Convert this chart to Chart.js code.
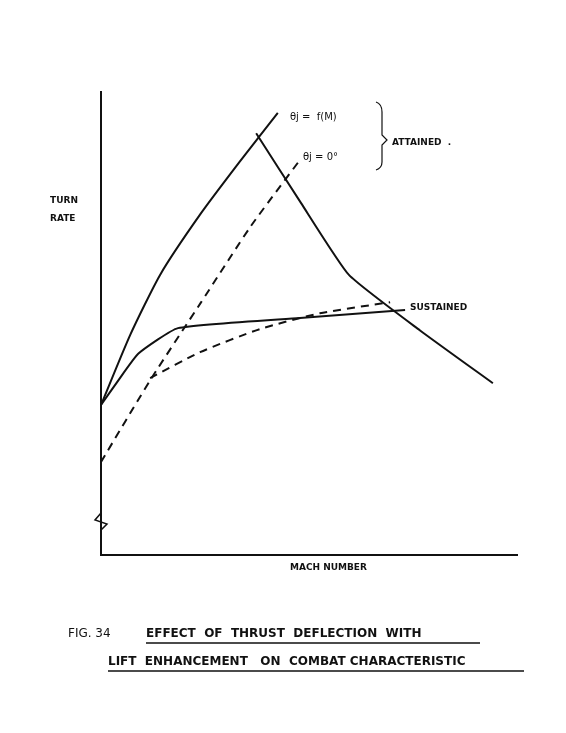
<!DOCTYPE html>
<html>
<head>
<meta charset="utf-8">
<script src="https://cdn.jsdelivr.net/npm/chart.js@4"></script>
<style>
  body { margin: 0; background: #fff; }
  #wrap { width: 566px; height: 733px; }
</style>
</head>
<body>
<div id="wrap"><canvas id="myChart"></canvas></div>
<script>
  // curves (x = Mach, y = turn rate, both relative 0..100)
  const attainedDeflected = [[0, 32.4], [7, 47.5], [14.2, 60.5], [23.8, 73.5], [33.4, 85.0], [42.5, 95.5]];
  const attainedZero = [[0, 20.1], [12, 38.0], [24, 54.5], [36, 71.0], [47.8, 85.3]];
  const attainedLimit = [[37.3, 91.1], [48.1, 76.0], [59.6, 60.5], [76.7, 48.5], [94.2, 37.1]];
  const sustainedDeflected = [[0, 32.4], [4, 37.5], [9, 43.5], [18.5, 49.0], [47.8, 51.2], [73.1, 52.9]];
  const sustainedZero = [[11.8, 38.2], [23.8, 43.8], [38.2, 48.8], [52.6, 52.2], [69.5, 54.6]];

  const ink = '#111';
  const pts = arr => arr.map(p => ({ x: p[0], y: p[1] }));
  const line = (arr, dashed, tension) => ({
    data: pts(arr), borderColor: ink, borderWidth: 2, pointRadius: 0,
    tension: tension, fill: false, borderDash: dashed ? [8, 6] : []
  });

  // text and marks drawn around the plot
  const labels = {
    id: 'labels',
    afterDraw(chart) {
      const c = chart.ctx, a = chart.chartArea;
      c.save();
      c.fillStyle = ink; c.strokeStyle = ink;
      c.font = 'bold 9px "DejaVu Sans"';
      c.fillText('TURN', 50, 203);
      c.fillText('RATE', 50, 221);
      c.fillText('MACH NUMBER', 290, 570);
      c.fillText('ATTAINED  .', 392, 145);
      c.fillText('SUSTAINED', 410, 310);
      c.font = '10px "DejaVu Sans"';
      c.fillText('θj =  f(M)', 290, 120);
      c.fillText('θj = 0°', 303, 160);
      // bracket
      c.lineWidth = 1.2;
      c.beginPath();
      c.moveTo(376, 102); c.quadraticCurveTo(382, 104, 382, 112);
      c.lineTo(382, 135); c.lineTo(387, 140); c.lineTo(382, 145);
      c.lineTo(382, 162); c.quadraticCurveTo(382, 168, 376, 170);
      c.stroke();
      // axis break
      c.lineWidth = 1.5;
      c.beginPath();
      c.moveTo(a.left, 513); c.lineTo(a.left - 6, 520); c.lineTo(a.left + 6, 524); c.lineTo(a.left, 530);
      c.stroke();
      // caption
      c.font = '12px "DejaVu Sans"';
      c.fillText('FIG. 34', 68, 637);
      c.font = 'bold 12px "DejaVu Sans"';
      c.fillText('EFFECT  OF  THRUST  DEFLECTION  WITH', 146, 637);
      c.fillText('LIFT  ENHANCEMENT   ON  COMBAT CHARACTERISTIC', 108, 665);
      c.lineWidth = 1.5;
      c.beginPath();
      c.moveTo(146, 643); c.lineTo(480, 643);
      c.moveTo(108, 671); c.lineTo(524, 671);
      c.stroke();
      c.restore();
    }
  };

  const config = {
    type: 'line',
    data: {
      datasets: [
        line(attainedDeflected, false, 0.2),
        line(attainedZero, true, 0.2),
        line(attainedLimit, false, 0.15),
        line(sustainedDeflected, false, 0.15),
        line(sustainedZero, true, 0.2)
      ]
    },
    options: {
      responsive: true,
      maintainAspectRatio: false,
      animation: false,
      layout: { padding: { left: 93, right: 49, top: 92, bottom: 170 } },
      plugins: { legend: { display: false }, tooltip: { enabled: false } },
      scales: {
        x: {
          type: 'linear', min: 0, max: 100,
          grid: { display: false },
          ticks: { display: false },
          border: { display: true, color: ink, width: 2 }
        },
        y: {
          min: 0, max: 100,
          grid: { display: false },
          ticks: { display: false },
          border: { display: true, color: ink, width: 2 }
        }
      }
    },
    plugins: [labels]
  };

  var myChart = new Chart(document.getElementById('myChart'), config);
</script>
</body>
</html>
